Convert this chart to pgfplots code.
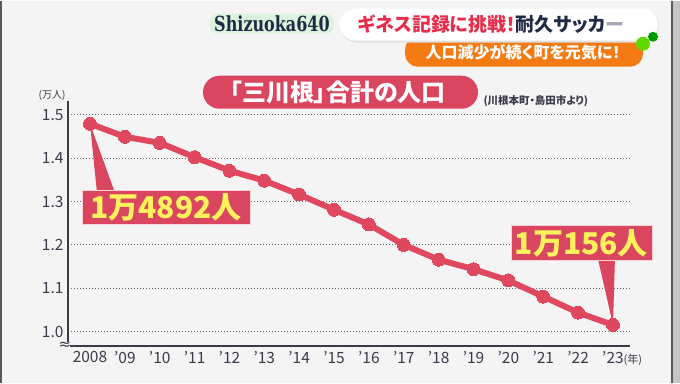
\documentclass[border=0pt]{standalone}
\usepackage{pgfplots}
\pgfplotsset{compat=1.18}
\usepackage{fontspec}
\setmainfont{Noto Sans CJK JP}
\newfontfamily\jpp[RawFeature=+palt]{Noto Sans CJK JP}
\newfontfamily\logofont{DejaVu Serif}
\newfontfamily\symfont{DejaVu Sans}
\definecolor{bg}{HTML}{F4F4F4}
\definecolor{lineRed}{HTML}{E0485F}
\definecolor{boxRed}{HTML}{DA4660}
\definecolor{yel}{HTML}{FFF25C}
\definecolor{axisC}{HTML}{3A3B48}
\definecolor{orangeC}{HTML}{F47B14}
\definecolor{navy}{HTML}{1F2A44}
\definecolor{titleRed}{HTML}{E62E4C}
\definecolor{glow}{HTML}{DDF2DD}
\def\q{\char39\relax}
\begin{document}
\begin{tikzpicture}
% background
\fill[bg] (0pt,0pt) rectangle (680pt,382pt);
\fill[gray!45] (672pt,0pt) rectangle (680pt,382pt);
\draw[gray!70!black, line width=1.2pt] (672pt,0pt) -- (672pt,382pt);
\draw[gray!70!black, line width=1.5pt] (0.75pt,0pt) -- (0.75pt,382pt);

\begin{axis}[
  at={(68pt,37pt)}, anchor=south west,
  scale only axis, width=562pt, height=245pt,
  xmin=2007.369, xmax=2023.488, ymin=0.9677, ymax=1.532,
  axis x line=bottom, axis y line=left,
  axis line style={-, draw=axisC, line width=2pt},
  xtick={2008,2009,2010,2011,2012,2013,2014,2015,2016,2017,2018,2019,2020,2021,2022,2023},
  xticklabels={2008,\q09,\q10,\q11,\q12,\q13,\q14,\q15,\q16,\q17,\q18,\q19,\q20,\q21,\q22,{\q23\rlap{\fontsize{11}{11}\selectfont(年)}}},
  ytick={1.0,1.1,1.2,1.3,1.4,1.5},
  yticklabels={1.0,1.1,1.2,1.3,1.4,1.5},
  major tick length=0pt,
  ymajorgrids,
  grid style={draw=gray!80!black, line width=1pt, dash pattern=on 0.9pt off 2.1pt},
  tick label style={font=\fontsize{15.5}{15.5}\selectfont, text=axisC},
  xticklabel style={yshift=-2pt},
  yticklabel style={xshift=-1pt},
  clip=false,
]
% callout pointers
\fill[boxRed] (axis cs:2008.201,1.320) -- (axis cs:2008.717,1.320) -- (axis cs:2008,1.479) -- cycle;
\fill[boxRed] (axis cs:2022.568,1.168) -- (axis cs:2023.056,1.168) -- (axis cs:2023,1.016) -- cycle;

\addplot[color=lineRed, line width=6pt, mark=*, mark size=6.5pt,
  mark options={fill=lineRed, draw=lineRed, line width=0pt}]
coordinates {
(2008,1.479) (2009,1.449) (2010,1.435) (2011,1.402) (2012,1.371)
(2013,1.348) (2014,1.316) (2015,1.281) (2016,1.247) (2017,1.200)
(2018,1.166) (2019,1.144) (2020,1.118) (2021,1.081) (2022,1.044)
(2023,1.0156)
};

\node[fill=boxRed, draw=white!75!boxRed, line width=0.8pt, minimum width=168pt, minimum height=34pt,
  inner sep=0pt, text=yel, font=\bfseries\fontsize{30}{30}\selectfont]
  at (axis cs:2010.18,1.2856) {1万4892人};
\node[fill=boxRed, draw=white!75!boxRed, line width=0.8pt, minimum width=141pt, minimum height=35pt,
  inner sep=0pt, text=yel, font=\bfseries\fontsize{30}{30}\selectfont]
  at (axis cs:2022.095,1.2038) {1万156人};
\end{axis}

% y unit and axis break
\node[text=axisC, font=\fontsize{10}{10}\selectfont] at (52pt,287pt) {(万人)};
\fill[bg] (66pt,35pt) rectangle (70pt,40.5pt);
\node[text=axisC, inner sep=0pt, font=\symfont\fontsize{15}{15}\selectfont] at (65pt,37pt) {≈};

% chart title pill
\fill[boxRed, rounded corners=16.5pt] (203pt,274pt) rectangle (478pt,307pt);
\node[text=white, font=\jpp\bfseries\fontsize{24}{24}\selectfont] at (338pt,290.5pt) {「三川根」合計の人口};
\node[anchor=west, text=axisC, font=\jpp\bfseries\fontsize{10.5}{10.5}\selectfont] at (480pt,282pt) {(川根本町・島田市より)};

% header logo (soft glow behind)
\fill[glow, rounded corners=8pt] (210pt,349pt) rectangle (334pt,369pt);
\node[text=navy, font=\logofont\bfseries\fontsize{16}{16}\selectfont, yscale=1.3, transform shape] at (272pt,359pt) {Shizuoka640};

\fill[orangeC, rounded corners=13pt] (405pt,316pt) rectangle (643pt,346pt);
\fill[black!12, rounded corners=16pt] (341pt,340pt) rectangle (659pt,373pt);
\fill[white, rounded corners=16pt] (340pt,342pt) rectangle (658pt,374pt);
\node[anchor=west, font=\jpp\bfseries\fontsize{19}{19}\selectfont] at (354pt,358.5pt)
  {\textcolor{titleRed}{ギネス記録に挑戦！}\textcolor{navy}{耐久サッカ}\textcolor{navy!40}{ー}};
\node[text=white, font=\jpp\bfseries\fontsize{16}{16}\selectfont] at (523pt,330pt) {人口減少が続く町を元気に！};
\fill[green!55!yellow!85!black] (643pt,339pt) circle (7pt);
\fill[green!60!black] (653pt,346pt) circle (5pt);
\end{tikzpicture}
\end{document}
